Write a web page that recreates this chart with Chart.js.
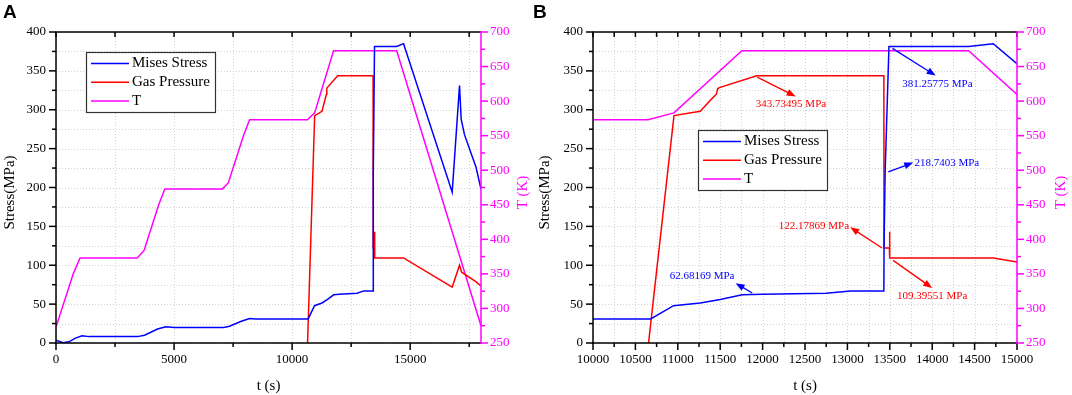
<!DOCTYPE html>
<html lang="en">
<head>
  <meta charset="UTF-8">
  <title>Mises stress, gas pressure and temperature</title>
  <script src="https://cdn.jsdelivr.net/npm/chart.js@4"></script>
  <style>
    body { margin: 0; background: #fff; }
    .wrap { position: relative; width: 1072px; height: 395px; overflow: hidden; }
    canvas { position: absolute; top: 0; }
    #chartA { left: 0; }
    #chartB { left: 528px; }
  </style>
</head>
<body>
  <div class="wrap">
    <canvas id="chartA" width="536" height="395"></canvas>
    <canvas id="chartB" width="544" height="395"></canvas>
  </div>

  <script>
    // values: t in s, stress in MPa, T in K
    const misesTime   = [0, 300, 550, 800, 1100, 1400, 3450, 3750, 4300, 4650, 5000, 7100, 7350, 7850, 8200, 8450, 10680, 10950, 11265, 11500, 11760, 12000, 12750, 13040, 13430, 13432, 13445, 13490, 14430, 14720, 16780, 17090, 17160, 17300, 17790, 18000];
    const misesStress = [3.5, 0.3, 1.5, 6, 9.3, 8.2, 8.2, 10, 18, 21, 20, 20, 21.5, 28, 31.5, 31, 31, 48, 51.5, 56, 62, 62.7, 64, 67, 67, 122, 220, 381.3, 381.3, 385, 194, 331, 288, 268, 226, 198];

    const gasTime     = [10655, 10955, 11265, 11400, 11455, 11470, 11490, 11930, 13430, 13432, 13495, 13497, 13500, 14720, 16780, 17090, 17180, 17780, 18000];
    const gasPressure = [0, 292.5, 298, 314, 320, 327, 328.5, 343.73, 343.73, 122.18, 122.18, 143, 109.4, 109.4, 72, 100, 91, 79, 73.5];

    const tempTime    = [0, 730, 1020, 3440, 3730, 4350, 4610, 7050, 7300, 7950, 8200, 10650, 10955, 11755, 14430, 18000];
    const temperature = [273, 350, 373, 373, 384, 450, 473, 473, 482, 551, 573, 573, 583, 673, 673, 275];

    const stressTicks = [0, 50, 100, 150, 200, 250, 300, 350, 400];
    const tempTicks   = [250, 300, 350, 400, 450, 500, 550, 600, 650, 700];
    const timeTicksA  = [0, 5000, 10000, 15000];
    const timeTicksB  = [10000, 10500, 11000, 11500, 12000, 12500, 13000, 13500, 14000, 14500, 15000];

    // callouts in panel B: [t, stress]
    const calloutsB = [
      { text: '343.73495 MPa', color: '#ff0000', from: [11936, 342], to: [12390, 317], at: [12335, 307], align: 'center' },
      { text: '381.25775 MPa', color: '#0000ff', from: [13531, 379], to: [14041, 344], at: [14061, 333], align: 'center' },
      { text: '218.7403 MPa', color: '#0000ff', from: [13482, 220], to: [13776, 232], at: [13790, 231.5], align: 'left' },
      { text: '62.68169 MPa', color: '#0000ff', from: [11878, 64.3], to: [11682, 77], at: [11286, 86.6], align: 'center' },
      { text: '122.17869 MPa', color: '#ff0000', from: [13408, 122.2], to: [13033, 149], at: [13020, 150.9], align: 'right' },
      { text: '109.39551 MPa', color: '#ff0000', from: [13539, 106.3], to: [14000, 70.7], at: [14000, 60.9], align: 'center' }
    ];

    const SERIF = '"Liberation Serif", "Times New Roman", serif';
    const MAGENTA = '#ff00ff';

    function pairs(xs, ys) {
      return xs.map((x, i) => ({ x: x, y: ys[i] }));
    }

    function line(ctx, x1, y1, x2, y2) {
      ctx.beginPath();
      ctx.moveTo(x1, y1);
      ctx.lineTo(x2, y2);
      ctx.stroke();
    }

    function steps(min, max, step) {
      const out = [];
      for (let v = min; v <= max + 1e-9; v += step) out.push(v);
      return out;
    }

    function arrow(ctx, x1, y1, x2, y2, color) {
      const ang = Math.atan2(y2 - y1, x2 - x1);
      const len = 9, half = 3.5;
      ctx.strokeStyle = color;
      ctx.fillStyle = color;
      ctx.lineWidth = 1.3;
      line(ctx, x1, y1, x2 - Math.cos(ang) * len * 0.7, y2 - Math.sin(ang) * len * 0.7);
      ctx.beginPath();
      ctx.moveTo(x2, y2);
      ctx.lineTo(x2 - Math.cos(ang) * len + Math.sin(ang) * half, y2 - Math.sin(ang) * len - Math.cos(ang) * half);
      ctx.lineTo(x2 - Math.cos(ang) * len - Math.sin(ang) * half, y2 - Math.sin(ang) * len + Math.cos(ang) * half);
      ctx.closePath();
      ctx.fill();
    }

    const framePlugin = {
      id: 'frame',
      beforeDatasetsDraw(chart, args, opts) {
        const { ctx, chartArea: a, scales } = chart;
        ctx.save();
        ctx.strokeStyle = '#d2d2d2';
        ctx.lineWidth = 1;
        ctx.setLineDash([1, 2]);
        steps(opts.xMin, opts.xMax, opts.xMinor).forEach(v => {
          const x = Math.round(scales.x.getPixelForValue(v)) + 0.5;
          line(ctx, x, a.top, x, a.bottom);
        });
        steps(0, 400, 25).forEach(v => {
          const y = Math.round(scales.y.getPixelForValue(v)) + 0.5;
          line(ctx, a.left, y, a.right, y);
        });
        ctx.restore();
      },
      afterDraw(chart, args, opts) {
        const { ctx, chartArea: a, scales } = chart;
        ctx.save();

        // ticks
        ctx.lineWidth = 1.5;
        ctx.strokeStyle = '#000';
        steps(opts.xMin, opts.xMax, opts.xMinor).forEach(v => {
          const x = scales.x.getPixelForValue(v);
          const major = opts.xTicks.includes(v);
          line(ctx, x, a.bottom, x, a.bottom + (major ? 7 : 4));
          line(ctx, x, a.top, x, a.top + 5);
        });
        steps(0, 400, 25).forEach(v => {
          const y = scales.y.getPixelForValue(v);
          line(ctx, a.left, y, a.left - (stressTicks.includes(v) ? 7 : 4), y);
        });
        ctx.strokeStyle = MAGENTA;
        steps(250, 700, 25).forEach(v => {
          const y = scales.y1.getPixelForValue(v);
          line(ctx, a.right, y, a.right + (tempTicks.includes(v) ? 7 : 4), y);
        });

        // frame
        ctx.strokeStyle = '#000';
        line(ctx, a.left, a.top, a.left, a.bottom + 0.75);
        line(ctx, a.left - 0.75, a.bottom, a.right, a.bottom);
        line(ctx, a.left - 0.75, a.top, a.right, a.top);
        ctx.strokeStyle = MAGENTA;
        line(ctx, a.right, a.top - 0.75, a.right, a.bottom + 0.75);

        // axis titles
        ctx.font = '15px ' + SERIF;
        ctx.textAlign = 'center';
        ctx.textBaseline = 'middle';
        ctx.fillStyle = '#000';
        ctx.fillText('t (s)', (a.left + a.right) / 2, 386);
        const midY = (a.top + a.bottom) / 2 + 5;
        ctx.save();
        ctx.translate(opts.stressTitleX, midY);
        ctx.rotate(-Math.PI / 2);
        ctx.fillText('Stress(MPa)', 0, 0);
        ctx.restore();
        ctx.save();
        ctx.translate(opts.tempTitleX, midY);
        ctx.rotate(-Math.PI / 2);
        ctx.fillStyle = MAGENTA;
        ctx.fillText('T (K)', 0, 0);
        ctx.restore();

        // panel letter
        ctx.font = 'bold 19px "Liberation Sans", Arial, sans-serif';
        ctx.textAlign = 'left';
        ctx.textBaseline = 'alphabetic';
        ctx.fillStyle = '#000';
        ctx.fillText(opts.letter, opts.letterX, 18);

        // legend
        const lx = a.left + opts.legend.dx, ly = a.top + opts.legend.dy;
        ctx.fillStyle = '#fff';
        ctx.fillRect(lx, ly, 129, 60);
        ctx.strokeStyle = '#333';
        ctx.lineWidth = 1.2;
        ctx.strokeRect(lx + 0.5, ly + 0.5, 129, 60);
        ctx.font = '15px ' + SERIF;
        ctx.textBaseline = 'middle';
        chart.data.datasets.forEach((ds, i) => {
          const cy = ly + 11.5 + i * 18.7;
          ctx.strokeStyle = ds.borderColor;
          ctx.lineWidth = 1.5;
          line(ctx, lx + 5, cy, lx + 43, cy);
          ctx.fillStyle = '#000';
          ctx.fillText(ds.label, lx + 46, cy);
        });

        // callouts
        ctx.font = '11px ' + SERIF;
        (opts.callouts || []).forEach(c => {
          const px = p => [scales.x.getPixelForValue(p[0]), scales.y.getPixelForValue(p[1])];
          const f = px(c.from), t = px(c.to), at = px(c.at);
          arrow(ctx, f[0], f[1], t[0], t[1], c.color);
          ctx.fillStyle = c.color;
          ctx.textAlign = c.align;
          ctx.fillText(c.text, at[0], at[1]);
        });

        ctx.restore();
      }
    };

    function makeChart(id, cfg) {
      const tickFont = { family: SERIF, size: 13 };
      return new Chart(document.getElementById(id), {
        type: 'line',
        data: {
          datasets: [
            { label: 'Mises Stress', data: pairs(misesTime, misesStress), borderColor: '#0000ff', yAxisID: 'y' },
            { label: 'Gas Pressure', data: pairs(gasTime, gasPressure), borderColor: '#ff0000', yAxisID: 'y' },
            { label: 'T', data: pairs(tempTime, temperature), borderColor: MAGENTA, yAxisID: 'y1' }
          ]
        },
        options: {
          responsive: false,
          animation: false,
          elements: {
            line: { borderWidth: 1.5, tension: 0 },
            point: { radius: 0 }
          },
          layout: { padding: { top: 32, left: 0, right: 0, bottom: 0 } },
          plugins: {
            legend: { display: false },
            tooltip: { enabled: false },
            frame: cfg
          },
          scales: {
            x: {
              type: 'linear',
              min: cfg.xMin,
              max: cfg.xMax,
              afterBuildTicks: s => { s.ticks = cfg.xTicks.map(v => ({ value: v })); },
              afterFit: s => { s.height = 52; },
              grid: { display: false, drawTicks: false },
              border: { display: false },
              ticks: { autoSkip: false, maxRotation: 0, padding: 9, color: '#000', font: tickFont, callback: v => String(v) }
            },
            y: {
              position: 'left',
              min: 0,
              max: 400,
              afterBuildTicks: s => { s.ticks = stressTicks.map(v => ({ value: v })); },
              afterFit: s => { s.width = cfg.leftWidth; },
              grid: { display: false, drawTicks: false },
              border: { display: false },
              ticks: { padding: 10, color: '#000', font: tickFont, callback: v => String(v) }
            },
            y1: {
              position: 'right',
              min: 250,
              max: 700,
              afterBuildTicks: s => { s.ticks = tempTicks.map(v => ({ value: v })); },
              afterFit: s => { s.width = 55; },
              grid: { display: false, drawTicks: false },
              border: { display: false },
              ticks: { padding: 9, color: MAGENTA, font: tickFont, callback: v => String(v) }
            }
          }
        },
        plugins: [framePlugin]
      });
    }

    makeChart('chartA', {
      letter: 'A', letterX: 3,
      xMin: 0, xMax: 18000, xMinor: 2500, xTicks: timeTicksA,
      leftWidth: 56, stressTitleX: 10, tempTitleX: 523,
      legend: { dx: 30, dy: 20 }
    });

    makeChart('chartB', {
      letter: 'B', letterX: 5,
      xMin: 10000, xMax: 15000, xMinor: 250, xTicks: timeTicksB,
      leftWidth: 65, stressTitleX: 17, tempTitleX: 533,
      legend: { dx: 105, dy: 98 },
      callouts: calloutsB
    });
  </script>
</body>
</html>
